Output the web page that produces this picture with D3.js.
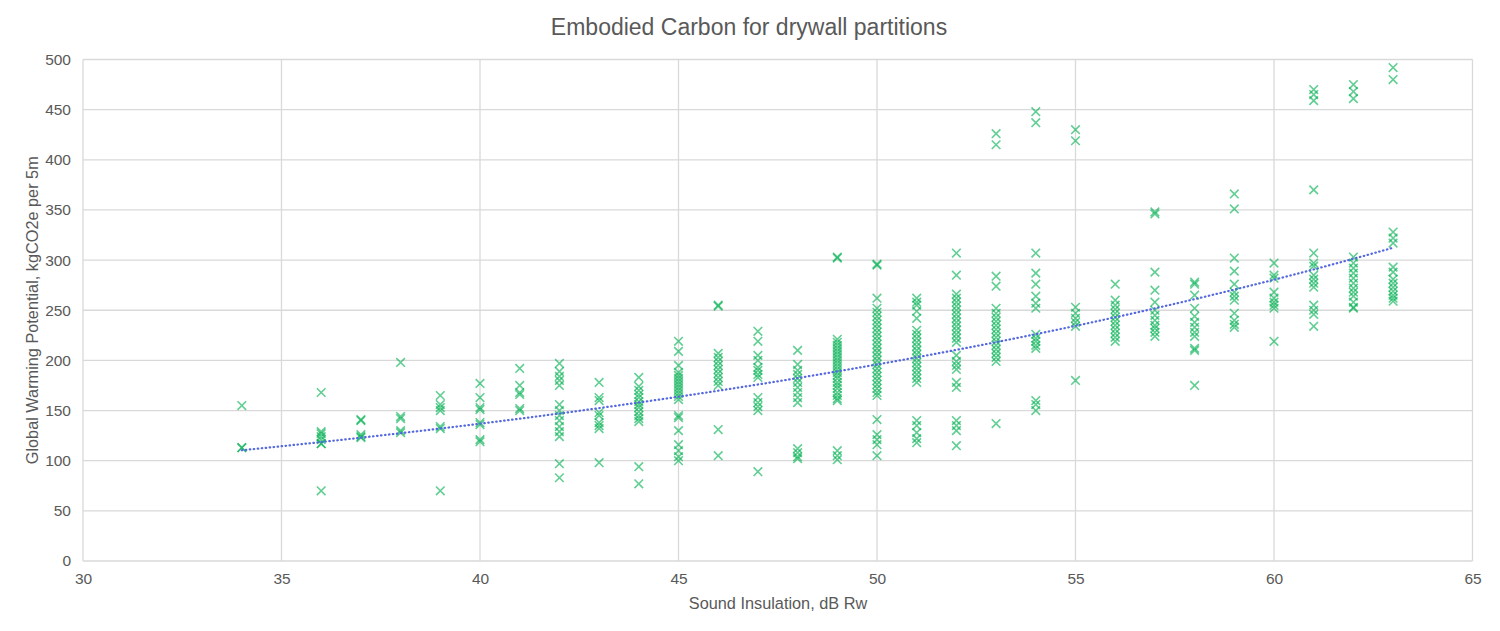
<!DOCTYPE html>
<html>
<head>
<meta charset="utf-8">
<script src="https://cdn.jsdelivr.net/npm/d3@7/dist/d3.min.js"></script>
<style>
    html, body { margin: 0; padding: 0; background: #fff; }
    svg text { font-family: "Liberation Sans", Arial, sans-serif; fill: #595959; }
</style>
</head>
<body>
<div id="chart"></div>
<script>
(function() {
    "use strict";

    // Sound insulation (dB Rw) of each column of points
    var soundRw = [34, 36, 37, 38, 39, 40, 41, 42, 43, 44, 45, 46, 47, 48,
                   49, 50, 51, 52, 53, 54, 55, 56, 57, 58, 59, 60, 61, 62, 63];

    // Global warming potential (kgCO2e per 5m) read for each Rw column
    var gwpByRw = [
        [155, 113, 113],
        [168, 129, 127, 124, 121, 117, 117, 70],
        [141, 140, 126, 124, 123],
        [198, 144, 142, 130, 128],
        [165, 156, 153, 150, 134, 132, 70],
        [177, 163, 153, 151, 138, 136, 121, 119],
        [192, 175, 168, 166, 152, 150],
        [197, 189, 184, 180, 175, 156, 150, 145, 140, 134, 129, 124, 97, 83],
        [178, 163, 160, 148, 145, 138, 135, 132, 98],
        [183, 174, 170, 166, 163, 159, 156, 153, 149, 145, 142, 139, 94, 77],
        [219, 209, 195, 188, 185, 182, 179, 176, 173, 170, 167, 164, 161, 145, 143, 130, 116, 110, 104, 100],
        [255, 254, 207, 203, 199, 195, 191, 187, 183, 179, 175, 131, 105],
        [229, 219, 205, 200, 193, 190, 186, 183, 163, 158, 154, 150, 89],
        [210, 196, 190, 186, 182, 178, 173, 168, 163, 158, 112, 108, 104, 102],
        [303, 302, 221, 218, 215, 212, 209, 206, 203, 200, 197, 194, 191, 188, 185, 182, 178, 175, 172, 168, 165, 162, 160, 110, 105, 101],
        [296, 295, 262, 252, 248, 244, 240, 236, 232, 228, 224, 220, 216, 212, 208, 204, 200, 196, 192, 188, 184, 180, 176, 172, 168, 165, 141, 126, 121, 116, 105],
        [262, 258, 255, 249, 242, 230, 226, 222, 218, 214, 210, 206, 202, 198, 194, 190, 186, 182, 178, 140, 135, 128, 122, 118],
        [307, 285, 266, 262, 258, 254, 250, 246, 242, 238, 234, 230, 226, 222, 218, 205, 199, 195, 191, 178, 173, 140, 135, 130, 115],
        [426, 415, 284, 274, 252, 247, 243, 239, 235, 231, 227, 223, 219, 215, 211, 207, 203, 199, 137],
        [448, 437, 307, 287, 276, 264, 257, 252, 226, 222, 219, 215, 212, 160, 156, 150],
        [430, 419, 253, 247, 242, 238, 234, 180],
        [276, 260, 255, 251, 247, 243, 239, 235, 231, 227, 223, 219],
        [348, 346, 288, 270, 258, 250, 245, 240, 235, 232, 228, 224],
        [278, 276, 265, 252, 244, 238, 233, 228, 224, 212, 210, 175],
        [366, 351, 302, 289, 276, 268, 264, 260, 247, 240, 236, 233],
        [297, 285, 282, 268, 262, 258, 255, 252, 219],
        [470, 465, 459, 370, 307, 297, 294, 285, 281, 277, 273, 255, 250, 246, 234],
        [475, 468, 461, 303, 297, 292, 287, 282, 277, 272, 268, 264, 258, 253, 252],
        [492, 480, 328, 322, 317, 293, 288, 281, 277, 273, 269, 265, 262, 259]
    ];

    var xTicks = [30, 35, 40, 45, 50, 55, 60, 65];
    var yTicks = [0, 50, 100, 150, 200, 250, 300, 350, 400, 450, 500];

    var width = 1500, height = 631;
    var margin = {top: 59.5, right: 27.5, bottom: 70, left: 83};

    var points = [];
    soundRw.forEach(function(rw, i) {
        gwpByRw[i].forEach(function(v) { points.push({x: rw, y: v}); });
    });

    var x = d3.scaleLinear().domain([30, 65]).range([margin.left, width - margin.right]);
    var y = d3.scaleLinear().domain([0, 500]).range([height - margin.bottom, margin.top]);

    var svg = d3.select("#chart").append("svg")
        .attr("width", width)
        .attr("height", height);

    // grid
    var grid = svg.append("g").attr("class", "grid")
        .attr("stroke", "#d9d9d9").attr("stroke-width", 1.3).attr("fill", "none");
    grid.selectAll("line.h").data(yTicks).enter().append("line")
        .attr("x1", x(30)).attr("x2", x(65))
        .attr("y1", function(d) { return y(d); })
        .attr("y2", function(d) { return y(d); });
    grid.selectAll("line.v").data(xTicks).enter().append("line")
        .attr("y1", y(0)).attr("y2", y(500))
        .attr("x1", function(d) { return x(d); })
        .attr("x2", function(d) { return x(d); });

    // axes (labels only, Excel look)
    var xAxis = svg.append("g")
        .attr("transform", "translate(0," + y(0) + ")")
        .call(d3.axisBottom(x).tickValues(xTicks).tickSize(0).tickPadding(12));
    var yAxis = svg.append("g")
        .attr("transform", "translate(" + x(30) + ",0)")
        .call(d3.axisLeft(y).tickValues(yTicks).tickSize(0).tickPadding(12));
    [xAxis, yAxis].forEach(function(a) {
        a.select(".domain").remove();
        a.selectAll("text").attr("font-size", 15.5).attr("fill", "#595959")
            .attr("font-family", "'Liberation Sans', Arial, sans-serif");
    });

    // points
    var s = 4.3;
    svg.append("g").selectAll("path").data(points).enter().append("path")
        .attr("transform", function(d) { return "translate(" + x(d.x) + "," + y(d.y) + ")"; })
        .attr("d", "M" + (-s) + "," + (-s) + "L" + s + "," + s + "M" + (-s) + "," + s + "L" + s + "," + (-s))
        .attr("fill", "none")
        .attr("stroke", "#00b050")
        .attr("stroke-opacity", 0.62)
        .attr("stroke-width", 1.6);

    // exponential trendline, least squares on ln(y)
    var n = points.length, sx = 0, sy = 0, sxx = 0, sxy = 0;
    points.forEach(function(p) {
        var ly = Math.log(p.y);
        sx += p.x; sy += ly; sxx += p.x * p.x; sxy += p.x * ly;
    });
    var b = (n * sxy - sx * sy) / (n * sxx - sx * sx);
    var a = (sy - b * sx) / n;
    var xMin = d3.min(soundRw), xMax = d3.max(soundRw);
    var trend = d3.range(xMin, xMax + 0.01, 0.25).map(function(v) { return {x: v, y: Math.exp(a + b * v)}; });

    svg.append("path")
        .datum(trend)
        .attr("d", d3.line().x(function(d) { return x(d.x); }).y(function(d) { return y(d.y); }))
        .attr("fill", "none")
        .attr("stroke", "#5468e0")
        .attr("stroke-width", 2.2)
        .attr("stroke-linecap", "round")
        .attr("stroke-dasharray", "0.5,3.5");

    // titles
    svg.append("text")
        .attr("x", 749).attr("y", 34.5)
        .attr("text-anchor", "middle")
        .attr("font-size", 23)
        .text("Embodied Carbon for drywall partitions");

    svg.append("text")
        .attr("x", 778).attr("y", 608.5)
        .attr("text-anchor", "middle")
        .attr("font-size", 16.3)
        .text("Sound Insulation, dB Rw");

    svg.append("text")
        .attr("transform", "translate(38," + ((y(0) + y(500)) / 2) + ") rotate(-90)")
        .attr("text-anchor", "middle")
        .attr("font-size", 16.3)
        .text("Global Warming Potential, kgCO2e per 5m");
})();
</script>
</body>
</html>
